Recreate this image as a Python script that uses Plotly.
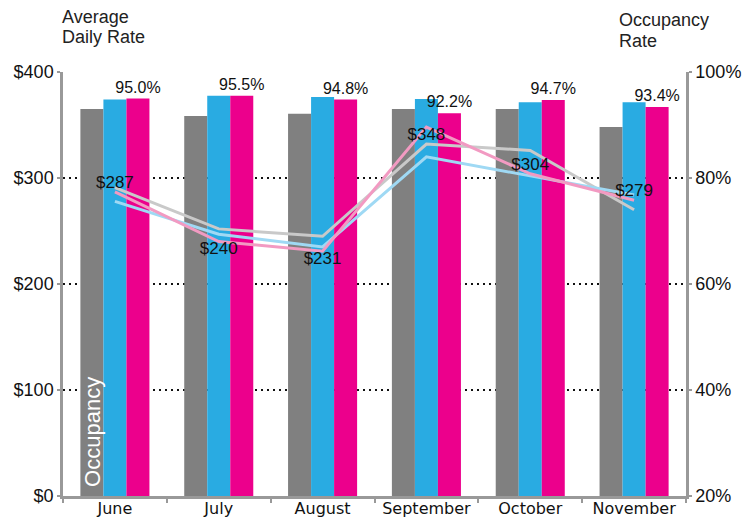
import plotly.graph_objects as go

months = ["June", "July", "August", "September", "October", "November"]

# Occupancy (%) - bars, right axis
occ_prior2 = [93.0, 91.7, 92.1, 93.0, 93.0, 89.6]   # gray
occ_prior1 = [94.8, 95.5, 95.3, 94.9, 94.3, 94.3]   # blue
occ_current = [95.0, 95.5, 94.8, 92.2, 94.7, 93.4]  # magenta (labelled)

# Average daily rate ($) - lines, left axis
adr_prior2 = [291, 252, 245, 332, 326, 270]   # light gray line
adr_prior1 = [278, 247, 235, 320, 302, 284]   # light blue line
adr_current = [287, 240, 231, 348, 304, 279]  # pink line (labelled)
adr_label_pos = ["top center", "bottom center", "bottom center",
                 "bottom center", "top center", "top center"]

FONT = "Liberation Sans, Arial, sans-serif"

fig = go.Figure()

fig.add_trace(go.Bar(x=months, y=occ_prior2, marker_color="#808080",
                     marker_line_width=0, yaxis="y", name="Occ 1"))
fig.add_trace(go.Bar(x=months, y=occ_prior1, marker_color="#29ABE2",
                     marker_line_width=0, yaxis="y", name="Occ 2"))
fig.add_trace(go.Bar(x=months, y=occ_current, marker_color="#EC008C",
                     marker_line_width=0, yaxis="y", name="Occ 3",
                     text=[f"{v:.1f}%" for v in occ_current],
                     textposition="outside", constraintext="none",
                     cliponaxis=False,
                     textfont=dict(family=FONT, size=16, color="#111")))

fig.add_trace(go.Scatter(x=months, y=adr_prior2, mode="lines", yaxis="y2",
                         line=dict(color="#C9C9C9", width=3), name="ADR 1"))
fig.add_trace(go.Scatter(x=months, y=adr_prior1, mode="lines", yaxis="y2",
                         line=dict(color="#9FD9F4", width=3), name="ADR 2"))
fig.add_trace(go.Scatter(x=months, y=adr_current, mode="lines+text", yaxis="y2",
                         line=dict(color="#F29AC2", width=3), name="ADR 3",
                         text=[f"${v}" for v in adr_current],
                         textposition=adr_label_pos, cliponaxis=False,
                         textfont=dict(family=FONT, size=17, color="#111")))

# page body has an 8px default margin, so the figure is sized/offset to suit
fig.update_layout(
    width=746, height=510,
    margin=dict(l=55, r=68, t=64, b=22),
    paper_bgcolor="white", plot_bgcolor="white",
    showlegend=False,
    barmode="group", bargap=0.335, bargroupgap=0,
    font=dict(family=FONT, color="#111"),
    xaxis=dict(
        showline=True, linecolor="#999999", linewidth=2.5,
        ticks="outside", tickson="boundaries", ticklen=4, tickwidth=2,
        tickcolor="#999999", showgrid=False, tickangle=0, automargin=False,
        ticklabelstandoff=-4,
        tickfont=dict(family="DejaVu Sans", size=16, color="#111"),
    ),
    yaxis=dict(
        side="right", range=[20, 100], dtick=20, ticksuffix="%",
        showline=True, linecolor="#999999", linewidth=2.5,
        ticks="outside", ticklen=3, tickwidth=2, tickcolor="#999999",
        showgrid=True, gridcolor="#111111", gridwidth=2, griddash="2px,4px",
        zeroline=False, automargin=False,
        tickfont=dict(family=FONT, size=18, color="#111"),
    ),
    yaxis2=dict(
        side="left", overlaying="y", range=[0, 400], dtick=100, tickprefix="$",
        showline=True, linecolor="#999999", linewidth=2.5,
        ticks="outside", ticklen=3, tickwidth=2, tickcolor="#999999",
        showgrid=False, zeroline=False, automargin=False,
        tickfont=dict(family=FONT, size=18, color="#111"),
    ),
    annotations=[
        dict(text="Average", xref="paper", yref="paper", x=-0.005, y=1.0,
             yshift=55, xanchor="left", yanchor="middle", showarrow=False,
             font=dict(family=FONT, size=18, color="#222")),
        dict(text="Daily Rate", xref="paper", yref="paper", x=-0.005, y=1.0,
             yshift=35, xanchor="left", yanchor="middle", showarrow=False,
             font=dict(family=FONT, size=18, color="#222")),
        dict(text="Occupancy", xref="paper", yref="paper", x=0.89, y=1.0,
             yshift=52, xanchor="left", yanchor="middle", showarrow=False,
             font=dict(family=FONT, size=18, color="#222")),
        dict(text="Rate", xref="paper", yref="paper", x=0.89, y=1.0,
             yshift=31, xanchor="left", yanchor="middle", showarrow=False,
             font=dict(family=FONT, size=18, color="#222")),
        dict(text="Occupancy", xref="paper", yref="paper", x=0.048, y=0.151,
             textangle=-90, xanchor="center", yanchor="middle", showarrow=False,
             font=dict(family=FONT, size=22, color="white")),
    ],
)

fig.write_html("out.html")
